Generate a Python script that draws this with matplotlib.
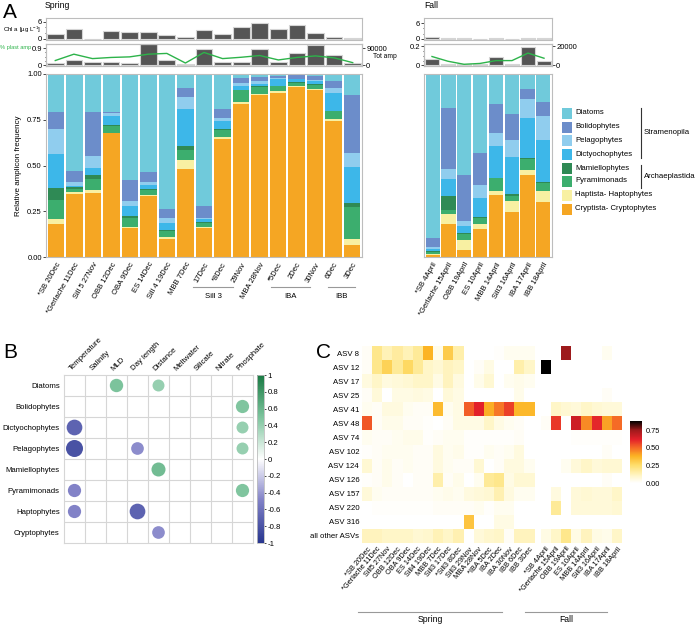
import numpy as np
import matplotlib
matplotlib.use('Agg')
from matplotlib import pyplot as plt
from matplotlib.colors import LinearSegmentedColormap, Normalize
from matplotlib.patches import Circle, Rectangle
from matplotlib.cm import ScalarMappable

plt.rcParams['font.family'] = ['Liberation Sans', 'DejaVu Sans']
plt.rcParams['font.size'] = 5.5
plt.rcParams['mathtext.fontset'] = 'custom'
plt.rcParams['mathtext.rm'] = 'Liberation Sans'
plt.rcParams['mathtext.it'] = 'Liberation Sans:italic'

# ---------------- panel A data ----------------
spring_sites = ['*SB 20Dec', '*Gerlache 11Dec', 'Sill 5 27Nov', 'OBB 12Dec', 'OBA 9Dec', 'ES 14Dec',
                'Sill 4 19Dec', 'MBB 7Dec', '17Dec', '*8Dec', '29Nov', 'MBA 28Nov', '*5Dec', '2Dec',
                '30Nov', '6Dec', '3Dec']
fall_sites = ['*SB 4April', '*Gerlache 15April', 'OBB 19April', 'ES 10April', 'MBB 14April',
              'Sill3 16April', 'IBA 17April', 'IBB 18April']

# stacked from the bottom up
taxa = ['Cryptista- Cryptophytes', 'Haptista- Haptophytes', 'Pyramimonads', 'Mamiellophytes',
        'Dictyochophytes', 'Pelagophytes', 'Bolidophytes', 'Diatoms']
taxa_colors = ['#F5A623', '#F8F0A2', '#3CAE6E', '#2F8A55', '#3DB7E9', '#90CDEE', '#6C8DCA', '#70CADB']

spring_crypto = [0.18, 0.346, 0.349, 0.676, 0.156, 0.335, 0.101, 0.482, 0.158, 0.647, 0.836, 0.886, 0.897, 0.93, 0.912, 0.741, 0.064]
spring_hapto = [0.026, 0.007, 0.015, 0.004, 0.006, 0.005, 0.007, 0.047, 0.004, 0.009, 0.013, 0.007, 0.009, 0.004, 0.005, 0.015, 0.037]
spring_pyram = [0.103, 0.02, 0.062, 0.037, 0.051, 0.024, 0.032, 0.056, 0.024, 0.039, 0.061, 0.037, 0.028, 0.018, 0.024, 0.04, 0.171]
spring_mamiello = [0.068, 0.007, 0.021, 0.002, 0.009, 0.007, 0.007, 0.023, 0.003, 0.004, 0.002, 0.002, 0.002, 0.004, 0.004, 0.004, 0.022]
spring_dictyo = [0.186, 0.01, 0.04, 0.049, 0.054, 0.022, 0.039, 0.202, 0.016, 0.042, 0.022, 0.013, 0.034, 0.014, 0.015, 0.097, 0.199]
spring_pelago = [0.138, 0.018, 0.064, 0.019, 0.029, 0.015, 0.027, 0.065, 0.01, 0.016, 0.015, 0.015, 0.008, 0.004, 0.007, 0.029, 0.077]
spring_bolido = [0.094, 0.061, 0.239, 0.007, 0.114, 0.057, 0.05, 0.051, 0.063, 0.052, 0.029, 0.023, 0.011, 0.02, 0.02, 0.034, 0.314]
spring_diatoms = [0.206, 0.531, 0.21, 0.206, 0.581, 0.535, 0.737, 0.074, 0.722, 0.191, 0.022, 0.017, 0.011, 0.006, 0.013, 0.04, 0.116]

fall_crypto = [0.009, 0.178, 0.04, 0.154, 0.341, 0.248, 0.45, 0.303]
fall_hapto = [0.008, 0.055, 0.052, 0.028, 0.022, 0.057, 0.027, 0.06]
fall_pyram = [0.009, 0.024, 0.035, 0.031, 0.066, 0.029, 0.061, 0.044]
fall_mamiello = [0.007, 0.077, 0.003, 0.007, 0.004, 0.009, 0.002, 0.004]
fall_dictyo = [0.011, 0.092, 0.039, 0.105, 0.171, 0.206, 0.218, 0.231]
fall_pelago = [0.009, 0.055, 0.029, 0.071, 0.073, 0.093, 0.108, 0.129]
fall_bolido = [0.052, 0.334, 0.252, 0.171, 0.158, 0.141, 0.051, 0.077]
fall_diatoms = [0.895, 0.185, 0.55, 0.433, 0.165, 0.217, 0.083, 0.152]

spring_chl = [1.65, 3.6, 0, 2.9, 2.35, 2.6, 1.4, 0.7, 3.2, 1.9, 4.2, 5.4, 3.4, 4.7, 2.1, 0.7, 0.5]
fall_chl = [0.8, 0.2, 0.35, 0.15, 0.3, 0.15, 0.3, 0.3]
spring_tot_amp = [12000, 26500, 16000, 17600, 12000, 110000, 26500, 5000, 83000, 16000, 17600, 86500, 17600, 63500, 106000, 53000, 14000]
fall_tot_amp = [6400, 1800, 1400, 1800, 8600, 1800, 19600, 4300]
spring_plast = [0.25, 0.58, 0.35, 0.41, 0.44, 0.58, 0.62, 0.12, 0.67, 0.35, 0.42, 0.51, 0.28, 0.41, 0.49, 0.39, 0.14]
fall_plast = [0.093, 0.043, 0.011, 0.02, 0.05, 0.05, 0.129, 0.075]

# ---------------- panel B data ----------------
b_rows = ['Diatoms', 'Bolidophytes', 'Dictyochophytes', 'Pelagophytes', 'Mamiellophytes',
          'Pyramimonads', 'Haptophytes', 'Cryptophytes']
b_cols = ['Temperature', 'Salinity', 'MLD', 'Day length', 'Distance', 'Meltwater', 'Silicate',
          'Nitrate', 'Phosphate']
nan = np.nan
corr = [
    [nan, nan, 0.5, nan, 0.4, nan, nan, nan, nan],
    [nan, nan, nan, nan, nan, nan, nan, nan, 0.49],
    [-0.69, nan, nan, nan, nan, nan, nan, nan, 0.4],
    [-0.81, nan, nan, -0.45, nan, nan, nan, nan, 0.4],
    [nan, nan, nan, nan, 0.55, nan, nan, nan, nan],
    [-0.49, nan, nan, nan, nan, nan, nan, nan, 0.49],
    [-0.49, nan, nan, -0.69, nan, nan, nan, nan, nan],
    [nan, nan, nan, nan, -0.45, nan, nan, nan, nan],
]

# ---------------- panel C data ----------------
asv_labels = ['ASV 8', 'ASV 12', 'ASV 17', 'ASV 25', 'ASV 41', 'ASV 48', 'ASV 74', 'ASV 102',
              'ASV 124', 'ASV 126', 'ASV 157', 'ASV 220', 'ASV 316', 'all other ASVs']
c_spring_sites = ['*SB 20Dec', '*Gerlache 11Dec', 'Sill5 27Nov', 'OBB 12Dec', 'OBA 9Dec', 'ES 14Dec',
                  'Sill4 19Dec', 'MBB 7Dec', 'Sill3 17Dec', '*Sill3 8Dec', 'Sill3 29Nov', 'MBA 28Nov',
                  '*IBA 5Dec', 'IBA 2Dec', 'IBA 30Nov', 'IBB 6Dec', 'IBB 3Dec']
c_fall_sites = ['*SB 4April', '*Gerlache 15April', 'OBB 19April', 'ES 10April', 'MBB 14April',
                'Sill3 16April', 'IBA 17April', 'IBB 18April']
heat_spring = [
    [0.02, 0.2, 0.13, 0.17, 0.13, 0.18, 0.38, 0.04, 0.31, 0.15, 0, 0, 0, 0.01, 0.03, 0.03, 0.03],
    [0.02, 0.2, 0.29, 0.18, 0.27, 0.18, 0.1, 0.08, 0.12, 0.1, 0, 0.02, 0.05, 0, 0, 0.15, 0.1],
    [0.06, 0.1, 0.06, 0.07, 0.08, 0.1, 0.1, 0.05, 0.12, 0.06, 0, 0.04, 0.08, 0, 0.03, 0.04, 0.03],
    [0.02, 0.07, 0, 0.05, 0.05, 0.06, 0.05, 0, 0.07, 0.05, 0, 0, 0, 0, 0, 0.04, 0],
    [0.03, 0.02, 0.06, 0.06, 0.03, 0.02, 0.02, 0.36, 0.03, 0.05, 0.52, 0.62, 0.39, 0.48, 0.57, 0.37, 0.37],
    [0.53, 0.02, 0.04, 0.04, 0.02, 0.02, 0.01, 0, 0.02, 0.05, 0.05, 0.05, 0.1, 0.05, 0.03, 0.02, 0],
    [0.03, 0.02, 0.02, 0.03, 0.04, 0.04, 0.01, 0.02, 0.03, 0.03, 0.01, 0.01, 0.01, 0.01, 0.01, 0.02, 0],
    [0.01, 0.02, 0.03, 0.03, 0.03, 0.02, 0.02, 0.06, 0.03, 0.04, 0.01, 0.01, 0.03, 0.02, 0.03, 0.06, 0],
    [0.08, 0.02, 0.04, 0.02, 0.03, 0.02, 0.02, 0.06, 0.03, 0.02, 0.02, 0.08, 0, 0.02, 0.06, 0.06, 0.03],
    [0.01, 0.02, 0.04, 0.02, 0, 0.02, 0.02, 0.15, 0.02, 0.04, 0, 0.03, 0.18, 0.2, 0.05, 0.08, 0.08],
    [0.07, 0.03, 0.02, 0.02, 0.02, 0.02, 0.02, 0.03, 0.04, 0.03, 0.06, 0.07, 0.08, 0.14, 0.06, 0.03, 0.03],
    [0, 0.01, 0.01, 0.01, 0.01, 0.01, 0.01, 0.02, 0.02, 0.02, 0.02, 0.03, 0.01, 0.03, 0.03, 0, 0],
    [0, 0, 0, 0, 0, 0, 0, 0, 0, 0, 0.33, 0, 0, 0.05, 0.05, 0, 0],
    [0.12, 0.12, 0.1, 0.1, 0.1, 0.08, 0.09, 0.13, 0.1, 0.14, 0, 0.07, 0.09, 0.1, 0.02, 0.12, 0.12],
]
heat_fall = [
    [0, 0, 0.75, 0, 0, 0, 0.03, 0],
    [0.88, 0, 0, 0, 0, 0, 0, 0],
    [0, 0, 0, 0, 0, 0, 0, 0],
    [0, 0, 0, 0, 0, 0, 0.02, 0],
    [0, 0.1, 0.08, 0.07, 0.1, 0.08, 0.07, 0.07],
    [0.02, 0.58, 0, 0.66, 0.45, 0.61, 0.41, 0.5],
    [0, 0, 0, 0.01, 0.01, 0.01, 0.01, 0.01],
    [0, 0, 0, 0, 0, 0, 0.02, 0],
    [0, 0, 0.03, 0.07, 0.1, 0.07, 0.08, 0.08],
    [0, 0, 0, 0, 0, 0, 0.02, 0],
    [0, 0.06, 0, 0.07, 0.08, 0.07, 0.07, 0.1],
    [0, 0.18, 0, 0.07, 0.07, 0.07, 0.07, 0.08],
    [0, 0, 0, 0, 0, 0, 0, 0],
    [0.05, 0.1, 0.2, 0.05, 0.12, 0.05, 0.04, 0.1],
]

W, H = 696, 625
fig = plt.figure(figsize=(W / 100, H / 100), dpi=100)


def px_axes(x0, y0, x1, y1):
    # axes placed by pixel box (top-left origin)
    return fig.add_axes([x0 / W, 1 - y1 / H, (x1 - x0) / W, (y1 - y0) / H])


def frame(ax, color='#BDBDBD'):
    for s in ax.spines.values():
        s.set_color(color)
        s.set_linewidth(0.8)


GRAY = '#555555'
GREEN = '#2DB34A'
TICK_FS = 5.5

# ---------------- panel A ----------------
spring_stack = [spring_crypto, spring_hapto, spring_pyram, spring_mamiello, spring_dictyo,
                spring_pelago, spring_bolido, spring_diatoms]
fall_stack = [fall_crypto, fall_hapto, fall_pyram, fall_mamiello, fall_dictyo, fall_pelago,
              fall_bolido, fall_diatoms]


def draw_block(x0, x1, sites, stack, chl, tot, plast, plast_lim, plast_tick, amp_lim, amp_tick,
               chl_lim, left_labels):
    n = len(sites)
    x = np.arange(n)
    # chl a
    ax = px_axes(x0, 18, x1, 40)
    ax.bar(x, chl, width=0.9, color=GRAY, edgecolor='#D5D5D5', linewidth=0.8)
    ax.set_xlim(-0.5, n - 0.5)
    ax.set_ylim(*chl_lim)
    ax.set_yticks([0, 6])
    ax.set_yticks([2, 4], minor=True)
    ax.set_xticks([])
    ax.tick_params(axis='y', length=2, width=0.5, labelsize=TICK_FS, pad=1)
    ax.tick_params(axis='y', which='minor', length=1, width=0.5)
    frame(ax)
    # amplicons
    ax2 = px_axes(x0, 44, x1, 66)
    axr = ax2.twinx()
    axr.bar(x, tot, width=0.9, color=GRAY, edgecolor='#D5D5D5', linewidth=0.8)
    axr.set_ylim(*amp_lim)
    axr.set_yticks([0, amp_tick])
    axr.set_yticklabels(['0', f'{amp_tick}'])
    axr.tick_params(axis='y', length=2, width=0.5, labelsize=TICK_FS, pad=1)
    ax2.set_zorder(axr.get_zorder() + 1)
    ax2.patch.set_visible(False)
    ax2.plot(x, plast, color=GREEN, lw=1.0)
    ax2.set_xlim(-0.5, n - 0.5)
    ax2.set_ylim(*plast_lim)
    ax2.set_yticks([0, plast_tick])
    ax2.set_yticklabels(['0', f'{plast_tick}'])
    ax2.set_yticks(np.linspace(0, plast_tick, 5)[1:-1], minor=True)
    ax2.set_xticks([])
    ax2.tick_params(axis='y', length=2, width=0.5, labelsize=TICK_FS, pad=1)
    ax2.tick_params(axis='y', which='minor', length=1, width=0.5)
    frame(ax2)
    frame(axr)
    # composition
    ax3 = px_axes(x0, 74, x1, 257)
    bottom = np.zeros(n)
    for vals, col in zip(stack, taxa_colors):
        ax3.bar(x, vals, bottom=bottom, width=0.9, color=col, linewidth=0)
        bottom += np.array(vals)
    ax3.set_xlim(-0.55, n - 0.45)
    ax3.set_ylim(0, 1)
    ax3.set_xticks(x)
    ax3.set_xticklabels(sites, rotation=60, ha='right', rotation_mode='anchor')
    ax3.tick_params(axis='x', length=0, pad=3, labelsize=5.5)
    if left_labels:
        ax3.set_yticks([0, 0.25, 0.5, 0.75, 1.0])
        ax3.set_yticklabels(['0.00', '0.25', '0.50', '0.75', '1.00'])
        ax3.tick_params(axis='y', length=2, width=0.5, labelsize=TICK_FS, pad=1)
        ax3.set_ylabel('Relative amplicon frequency', fontsize=5.8, labelpad=4)
    else:
        ax3.set_yticks([])
    frame(ax3)


draw_block(46, 362, spring_sites, spring_stack, spring_chl, spring_tot_amp, spring_plast,
           (-0.035, 1.11), 0.9, (-3500, 111000), 90000, (-0.35, 7.3), True)
draw_block(424, 552, fall_sites, fall_stack, fall_chl, fall_tot_amp, fall_plast,
           (-0.007, 0.225), 0.2, (-700, 22500), 20000, (-0.4, 8.0), False)

# ---------------- panel B ----------------
corr_cmap = LinearSegmentedColormap.from_list(
    'corr', [(0, '#28368F'), (0.25, '#7F80C6'), (0.5, '#FFFFFF'), (0.75, '#7DC49D'), (1, '#197A43')])
corr_norm = Normalize(-1, 1)

axb = px_axes(64, 375, 253, 543)
axb.set_xlim(0, len(b_cols))
axb.set_ylim(len(b_rows), 0)
for k in range(1, len(b_cols)):
    axb.axvline(k, color='#D6D6D6', lw=0.8)
for k in range(1, len(b_rows)):
    axb.axhline(k, color='#D6D6D6', lw=0.8)
for i, row in enumerate(corr):
    for j, r in enumerate(row):
        if np.isnan(r):
            continue
        axb.add_patch(Circle((j + 0.5, i + 0.5), 0.45 * np.sqrt(abs(r)),
                             facecolor=corr_cmap(corr_norm(r)), edgecolor='none'))
axb.set_xticks([])
axb.set_yticks(np.arange(len(b_rows)) + 0.5)
axb.set_yticklabels(b_rows, fontsize=5.6)
axb.tick_params(axis='y', length=0, pad=3)
for j, name in enumerate(b_cols):
    axb.text(j + 0.4, -0.12, name, rotation=45, ha='left', va='bottom', fontsize=5.6,
             rotation_mode='anchor')
frame(axb, '#D6D6D6')

caxb = px_axes(257, 375, 264, 543)
cb = fig.colorbar(ScalarMappable(norm=corr_norm, cmap=corr_cmap), cax=caxb,
                  ticks=[1, 0.8, 0.6, 0.4, 0.2, 0, -0.2, -0.4, -0.6, -0.8, -1])
cb.ax.set_yticklabels(['1', '0.8', '0.6', '0.4', '0.2', '0', '-0.2', '-0.4', '-0.6', '-0.8', '-1'])
cb.ax.tick_params(length=1.5, width=0.5, labelsize=5.6, pad=1)
cb.outline.set_edgecolor('#BDBDBD')
cb.outline.set_linewidth(0.6)

# ---------------- panel C ----------------
heat_cmap = LinearSegmentedColormap.from_list(
    'heat', [(0, '#FFFFFF'), (0.1 / 0.88, '#FFF6C8'), (0.25 / 0.88, '#FEDF6E'),
             (0.38 / 0.88, '#FCB424'), (0.5 / 0.88, '#F56B26'), (0.62 / 0.88, '#E3202A'),
             (0.75 / 0.88, '#A01A1C'), (1, '#000000')])
heat_norm = Normalize(0, 0.88)

axc = px_axes(362, 346, 622, 543)
n_sp = len(c_spring_sites)
n_fa = len(c_fall_sites)
gap = 0.6
nrow = len(asv_labels)
axc.pcolormesh(np.arange(n_sp + 1), np.arange(nrow + 1), np.array(heat_spring),
               cmap=heat_cmap, norm=heat_norm)
axc.pcolormesh(n_sp + gap + np.arange(n_fa + 1), np.arange(nrow + 1), np.array(heat_fall),
               cmap=heat_cmap, norm=heat_norm)
axc.set_xlim(0, n_sp + gap + n_fa)
axc.set_ylim(nrow, 0)
axc.set_yticks(np.arange(nrow) + 0.5)
axc.set_yticklabels(asv_labels, fontsize=5.6)
xc = list(np.arange(n_sp) + 0.5) + list(n_sp + gap + np.arange(n_fa) + 0.5)
axc.set_xticks(xc)
axc.set_xticklabels(c_spring_sites + c_fall_sites, rotation=50, ha='right',
                    rotation_mode='anchor', fontsize=5.3)
axc.tick_params(length=0, pad=2)
for s in axc.spines.values():
    s.set_visible(False)

caxc = px_axes(630, 421, 642, 483)
cbc = fig.colorbar(ScalarMappable(norm=heat_norm, cmap=heat_cmap), cax=caxc,
                   ticks=[0, 0.25, 0.5, 0.75])
cbc.ax.set_yticklabels(['0.00', '0.25', '0.50', '0.75'])
cbc.ax.tick_params(length=0, labelsize=5.3, pad=3)
cbc.outline.set_visible(False)

# ---------------- overlay: labels, legend, brackets ----------------
ov = fig.add_axes([0, 0, 1, 1])
ov.set_xlim(0, W)
ov.set_ylim(H, 0)
ov.axis('off')

ov.text(3, 13, 'A', fontsize=15, va='center', ha='left')
ov.text(3, 352, 'B', fontsize=15, va='center', ha='left')
ov.text(316, 352, 'C', fontsize=15, va='center', ha='left')
ov.text(45, 6, 'Spring', fontsize=6.2, va='center')
ov.text(424, 5, 'Fall', fontsize=6.2, va='center')
ov.text(3, 30, r'Chl a [µg L$^{-1}$]', fontsize=4.4, ha='left', va='center')
ov.text(0, 48, '% plast amp', fontsize=4.1, ha='left', va='center', color=GREEN)
ov.text(385, 57, 'Tot amp', fontsize=4.8, ha='center', va='center')

# site groups under panel A spring
for x0, x1, lab in [(193, 233, 'Sill 3'), (271, 310, 'IBA'), (328, 355, 'IBB')]:
    ov.plot([x0, x1], [287, 287], color='#999999', lw=0.8)
    ov.text((x0 + x1) / 2, 296, lab, fontsize=5.6, ha='center', va='center')

# legend
leg_names = ['Diatoms', 'Bolidophytes', 'Pelagophytes', 'Dictyochophytes', 'Mamiellophytes',
             'Pyramimonads', 'Haptista- Haptophytes', 'Cryptista- Cryptophytes']
leg_y = [113, 127, 140, 154, 168, 181, 195, 209]
for name, yy in zip(leg_names, leg_y):
    col = taxa_colors[taxa.index(name)]
    ov.add_patch(Rectangle((562, yy - 5.5), 10, 11, facecolor=col, edgecolor='none'))
    ov.text(575, yy, name, fontsize=5.6, va='center', ha='left')
ov.plot([641, 641], [108, 158], color='#333333', lw=0.8)
ov.text(644, 133, 'Stramenopila', fontsize=5.6, va='center', ha='left')
ov.plot([641, 641], [165, 188], color='#333333', lw=0.8)
ov.text(644, 176, 'Archaeplastida', fontsize=5.6, va='center', ha='left')

# season bars under panel C
ov.plot([358, 502], [612, 612], color='#999999', lw=0.8)
ov.text(430, 620, 'Spring', fontsize=6.2, ha='center', va='center')
ov.plot([525, 607], [612, 612], color='#999999', lw=0.8)
ov.text(566, 620, 'Fall', fontsize=6.2, ha='center', va='center')

fig.savefig('out.png', dpi=100)
